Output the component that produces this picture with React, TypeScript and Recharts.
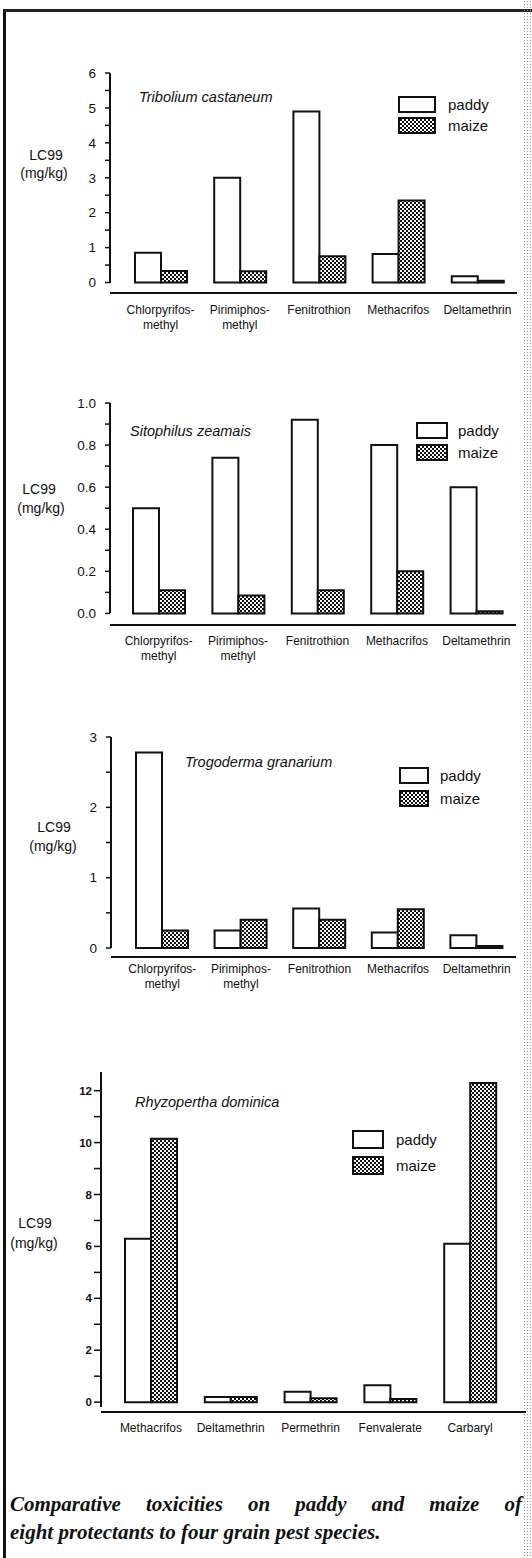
import React from "react";
import { BarChart, Bar, XAxis, YAxis, Legend } from "recharts";

// insecticides tested on the first three species
const insecticides = ["Chlorpyrifos-methyl", "Pirimiphos-methyl", "Fenitrothion", "Methacrifos", "Deltamethrin"];
// insecticides tested on Rhyzopertha dominica
const rhyzoperthaInsecticides = ["Methacrifos", "Deltamethrin", "Permethrin", "Fenvalerate", "Carbaryl"];

// LC99 (mg/kg)
const triboliumPaddy = [0.85, 3.0, 4.9, 0.82, 0.18];
const triboliumMaize = [0.33, 0.32, 0.75, 2.35, 0.05];
const sitophilusPaddy = [0.5, 0.74, 0.92, 0.8, 0.6];
const sitophilusMaize = [0.11, 0.085, 0.11, 0.2, 0.01];
const trogodermaPaddy = [2.78, 0.25, 0.56, 0.22, 0.18];
const trogodermaMaize = [0.25, 0.4, 0.4, 0.55, 0.03];
const rhyzoperthaPaddy = [6.3, 0.2, 0.4, 0.65, 6.1];
const rhyzoperthaMaize = [10.15, 0.2, 0.15, 0.12, 12.3];

// y axis ticks (major + minor)
const triboliumTicks = [0, 0.5, 1, 1.5, 2, 2.5, 3, 3.5, 4, 4.5, 5, 5.5, 6];
const sitophilusTicks = [0, 0.1, 0.2, 0.3, 0.4, 0.5, 0.6, 0.7, 0.8, 0.9, 1.0];
const trogodermaTicks = [0, 0.5, 1, 1.5, 2, 2.5, 3];
const rhyzoperthaTicks = [0, 1, 2, 3, 4, 5, 6, 7, 8, 9, 10, 11, 12];

const seriesOrder = ["paddy", "maize"];

const SANS = "'Liberation Sans', Arial, Helvetica, sans-serif";
const SERIF = "'Liberation Serif', 'Times New Roman', serif";
const INK = "#111";

const rows = (names: string[], paddy: number[], maize: number[]) =>
  names.map((name, i) => ({ name, paddy: paddy[i], maize: maize[i] }));

function CategoryTick(props: any) {
  const { x, y, payload, dy } = props;
  const v: string = payload.value;
  const cut = v.indexOf("-");
  const lines = cut > 0 ? [v.slice(0, cut + 1), v.slice(cut + 1)] : [v];
  return (
    <text x={x} y={y} textAnchor="middle" fontSize={12} fontFamily={SANS} fill={INK}>
      {lines.map((l, i) => (
        <tspan key={i} x={x} dy={i === 0 ? dy : 15}>
          {l}
        </tspan>
      ))}
    </text>
  );
}

type PanelCfg = {
  top: number;
  height: number;
  marginTop: number;
  marginRight: number;
  yWidth: number;
  padLeft: number;
  padRight: number;
  domain: [number, number];
  ticks: number[];
  fmt: (v: number) => string;
  dash: number;
  labelDy: number;
  tickFont: number;
  tickBold?: boolean;
  tickSize: number;
  tickMargin: number;
  legend: { left: number; top: number; boxW: number; boxH: number; rowGap: number; textLeft: number };
  title: string;
  titleLeft: number;
  titleY: number;
  ylabel: { x1: number; y1: number; x2: number; y2: number };
};

function Panel({ cfg, data }: { cfg: PanelCfg; data: { name: string; paddy: number; maize: number }[] }) {
  const lg = cfg.legend;
  const border = { stroke: INK, strokeWidth: 2 };
  const legendContent = (props: any) => {
    const items = [...(props.payload || [])].sort(
      (a: any, b: any) => seriesOrder.indexOf(a.value) - seriesOrder.indexOf(b.value)
    );
    return (
      <div style={{ position: "relative", width: 120, height: lg.rowGap + lg.boxH + 4 }}>
        {items.map((e: any, i: number) => (
          <div key={e.value} style={{ position: "absolute", left: 0, top: i * lg.rowGap, height: lg.boxH + 2 }}>
            <svg width={lg.boxW + 2} height={lg.boxH + 2} style={{ position: "absolute", left: 0, top: 0 }}>
              <rect x={1} y={1} width={lg.boxW} height={lg.boxH} fill={e.color} stroke={INK} strokeWidth={2} />
            </svg>
            <span
              style={{
                position: "absolute",
                left: lg.textLeft,
                top: (lg.boxH + 2) / 2 - 9,
                lineHeight: "18px",
                fontFamily: SANS,
                fontSize: 15,
                color: INK,
                whiteSpace: "nowrap",
              }}
            >
              {e.value}
            </span>
          </div>
        ))}
      </div>
    );
  };

  return (
    <div style={{ position: "absolute", left: 0, top: cfg.top, width: 532, height: cfg.height }}>
      <BarChart
        width={532}
        height={cfg.height}
        data={data}
        margin={{ top: cfg.marginTop, right: cfg.marginRight, left: 0, bottom: 0 }}
        barGap={0}
        barSize={26}
      >
        <XAxis
          dataKey="name"
          height={40}
          interval={0}
          padding={{ left: cfg.padLeft, right: cfg.padRight }}
          tickLine={false}
          tickSize={0}
          tickMargin={0}
          axisLine={border}
          tick={(p: any) => <CategoryTick {...p} dy={cfg.labelDy} />}
        />
        <XAxis xAxisId="top" orientation="top" dataKey="name" height={0} tick={false} tickLine={false} axisLine={border} />
        <YAxis
          type="number"
          width={cfg.yWidth}
          domain={cfg.domain}
          ticks={cfg.ticks}
          interval={0}
          tickFormatter={cfg.fmt}
          tickSize={cfg.tickSize}
          tickMargin={cfg.tickMargin}
          tickLine={{ stroke: INK, strokeWidth: 1.5 }}
          axisLine={{ ...border, strokeDasharray: `${cfg.dash} 400` }}
          tick={{ fill: INK, fontSize: cfg.tickFont, fontFamily: SANS, fontWeight: cfg.tickBold ? 700 : 400 }}
        />
        <YAxis
          yAxisId="right"
          orientation="right"
          type="number"
          width={0}
          domain={cfg.domain}
          tick={false}
          tickLine={false}
          axisLine={{ ...border, strokeDasharray: `${cfg.dash} 400` }}
        />
        <Legend
          layout="vertical"
          align="center"
          verticalAlign="middle"
          content={legendContent}
          wrapperStyle={{ left: lg.left, top: lg.top - cfg.top, width: 120 }}
        />
        <Bar dataKey="paddy" name="paddy" fill="#ffffff" stroke={INK} strokeWidth={2} isAnimationActive={false} />
        <Bar dataKey="maize" name="maize" fill="url(#maizeDots)" stroke={INK} strokeWidth={2} isAnimationActive={false} />
      </BarChart>
      <div
        style={{
          position: "absolute",
          left: cfg.titleLeft,
          top: cfg.titleY - cfg.top - 9,
          lineHeight: "18px",
          fontFamily: SANS,
          fontStyle: "italic",
          fontSize: 14.5,
          color: INK,
          whiteSpace: "nowrap",
        }}
      >
        {cfg.title}
      </div>
      <div style={{ position: "absolute", left: cfg.ylabel.x1 - 40, width: 80, textAlign: "center", top: cfg.ylabel.y1 - cfg.top - 9, lineHeight: "18px", fontFamily: SANS, fontSize: 14, color: INK }}>
        LC99
      </div>
      <div style={{ position: "absolute", left: cfg.ylabel.x2 - 40, width: 80, textAlign: "center", top: cfg.ylabel.y2 - cfg.top - 9, lineHeight: "18px", fontFamily: SANS, fontSize: 14, color: INK }}>
        (mg/kg)
      </div>
    </div>
  );
}

const intFmt = (v: number) => (Number.isInteger(v) ? String(v) : "");
const evenFmt = (v: number) => (v % 2 === 0 ? String(v) : "");
const decFmt = (v: number) => (Math.round(v * 10) % 2 === 0 ? v.toFixed(1) : "");

const panels: { cfg: PanelCfg; data: { name: string; paddy: number; maize: number }[] }[] = [
  {
    data: rows(insecticides, triboliumPaddy, triboliumMaize),
    cfg: {
      top: 0, height: 333, marginTop: 73, marginRight: 15, yWidth: 110, padLeft: 11, padRight: 0,
      domain: [-0.3, 6], ticks: triboliumTicks, fmt: intFmt, dash: 210, labelDy: 21,
      tickFont: 13.5, tickSize: 5, tickMargin: 9,
      legend: { left: 398, top: 96, boxW: 36, boxH: 15, rowGap: 21, textLeft: 50 },
      title: "Tribolium castaneum", titleLeft: 139, titleY: 97,
      ylabel: { x1: 46, y1: 155, x2: 44, y2: 173 },
    },
  },
  {
    data: rows(insecticides, sitophilusPaddy, sitophilusMaize),
    cfg: {
      top: 330, height: 335, marginTop: 73, marginRight: 16, yWidth: 110, padLeft: 9, padRight: 0,
      domain: [-0.055, 1.0], ticks: sitophilusTicks, fmt: decFmt, dash: 210, labelDy: 20,
      tickFont: 13.5, tickSize: 5, tickMargin: 9,
      legend: { left: 416, top: 422, boxW: 30, boxH: 15, rowGap: 22, textLeft: 42 },
      title: "Sitophilus zeamais", titleLeft: 130, titleY: 431,
      ylabel: { x1: 39, y1: 489, x2: 41, y2: 508 },
    },
  },
  {
    data: rows(insecticides, trogodermaPaddy, trogodermaMaize),
    cfg: {
      top: 700, height: 297, marginTop: 37, marginRight: 16, yWidth: 111, padLeft: 12, padRight: 0,
      domain: [-0.128, 3], ticks: trogodermaTicks, fmt: intFmt, dash: 211, labelDy: 16,
      tickFont: 13.5, tickSize: 5, tickMargin: 9,
      legend: { left: 399, top: 767, boxW: 28, boxH: 15, rowGap: 23, textLeft: 41 },
      title: "Trogoderma granarium", titleLeft: 185, titleY: 762,
      ylabel: { x1: 54, y1: 827, x2: 53, y2: 846 },
    },
  },
  {
    data: rows(rhyzoperthaInsecticides, rhyzoperthaPaddy, rhyzoperthaMaize),
    cfg: {
      top: 1040, height: 412, marginTop: 32, marginRight: 6, yWidth: 101, padLeft: 10, padRight: 16,
      domain: [-0.38, 12.72], ticks: rhyzoperthaTicks, fmt: evenFmt, dash: 335, labelDy: 20,
      tickFont: 11.5, tickBold: true, tickSize: 7, tickMargin: 2,
      legend: { left: 352, top: 1130, boxW: 30, boxH: 17, rowGap: 26, textLeft: 44 },
      title: "Rhyzopertha dominica", titleLeft: 135, titleY: 1102,
      ylabel: { x1: 35, y1: 1223, x2: 34, y2: 1243 },
    },
  },
];

export default function App() {
  return (
    <div style={{ position: "absolute", left: 0, top: 0, width: 532, height: 1558, background: "#fff", overflow: "hidden" }}>
      <svg width={0} height={0} style={{ position: "absolute" }}>
        <defs>
          <pattern id="maizeDots" width={4} height={4} patternUnits="userSpaceOnUse">
            <rect width={4} height={4} fill="#fff" />
            <rect x={0} y={0} width={2} height={2} fill="#111" />
            <rect x={2} y={2} width={2} height={2} fill="#111" />
          </pattern>
        </defs>
      </svg>

      {/* page frame of the scanned figure */}
      <div style={{ position: "absolute", left: 3, top: 9, width: 3, height: 1549, background: INK }} />
      <div style={{ position: "absolute", left: 3, top: 9, width: 529, height: 2.5, background: "#222" }} />
      <div
        style={{
          position: "absolute",
          left: 523,
          top: 0,
          width: 9,
          height: 1558,
          backgroundImage: "radial-gradient(#999 0.7px, transparent 0.9px)",
          backgroundSize: "3px 3px",
        }}
      />

      {panels.map((p, i) => (
        <Panel key={i} cfg={p.cfg} data={p.data} />
      ))}

      <div
        style={{
          position: "absolute",
          left: 10,
          top: 1490,
          width: 512,
          fontFamily: SERIF,
          fontStyle: "italic",
          fontWeight: 700,
          fontSize: 21,
          lineHeight: "28px",
          color: INK,
          textAlign: "justify",
          textAlignLast: "justify",
          whiteSpace: "nowrap",
        }}
      >
        Comparative toxicities on paddy and maize of
      </div>
      <div
        style={{
          position: "absolute",
          left: 10,
          top: 1518,
          fontFamily: SERIF,
          fontStyle: "italic",
          fontWeight: 700,
          fontSize: 21,
          lineHeight: "28px",
          color: INK,
          whiteSpace: "nowrap",
        }}
      >
        eight protectants to four grain pest species.
      </div>
    </div>
  );
}
